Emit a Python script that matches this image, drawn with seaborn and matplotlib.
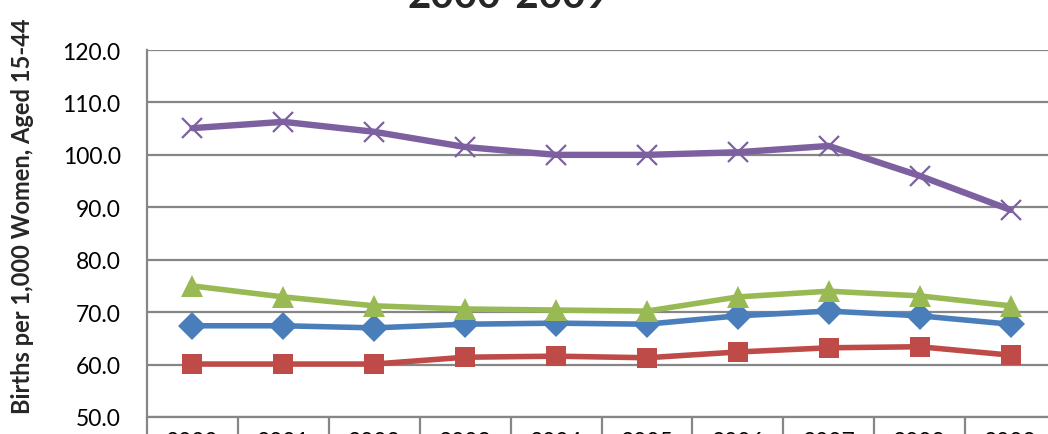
import matplotlib
matplotlib.use("Agg")
import matplotlib.pyplot as plt
import seaborn as sns
import pandas as pd
import numpy as np

years = ["2000", "2001", "2002", "2003", "2004", "2005", "2006", "2007", "2008", "2009"]
total = [67.4, 67.4, 67.0, 67.7, 67.9, 67.7, 69.3, 70.2, 69.3, 67.7]
white = [60.1, 60.1, 60.1, 61.4, 61.6, 61.3, 62.4, 63.2, 63.4, 61.8]
black = [75.0, 72.9, 71.2, 70.6, 70.4, 70.2, 72.9, 74.0, 73.1, 71.2]
hispanic = [105.1, 106.3, 104.4, 101.5, 100.0, 100.0, 100.5, 101.7, 96.0, 89.5]

yticks = [50.0, 60.0, 70.0, 80.0, 90.0, 100.0, 110.0, 120.0]
title = "2000-2009"
ylabel = "Births per 1,000 Women, Aged 15-44"

series = {"Total": total, "White": white, "Black": black, "Hispanic": hispanic}
df = pd.DataFrame(
    [(i, name, v) for name, vals in series.items() for i, v in enumerate(vals)],
    columns=["idx", "group", "rate"],
)

sns.set_theme(style="white")
plt.rcParams["font.family"] = ["Lato", "DejaVu Sans"]

W, H = 1048, 435
fig = plt.figure(figsize=(W / 100, H / 100), dpi=100)
left_px, right_px, top_px, bottom_px = 147, 1056, 51, 418
ax = fig.add_axes([left_px / W, (H - bottom_px) / H,
                   (right_px - left_px) / W, (bottom_px - top_px) / H])

styles = {
    "Total": dict(color="#4A7EBB", marker="D", markersize=14, lw=4.0),
    "White": dict(color="#BE4B48", marker="s", markersize=14.5, lw=4.0),
    "Black": dict(color="#98B954", marker="^", markersize=15.5, lw=4.0),
    "Hispanic": dict(color="#7D60A0", marker="x", markersize=15, lw=4.6,
                     markeredgewidth=1.6),
}
for name, st in styles.items():
    sub = df[df["group"] == name]
    sns.lineplot(data=sub, x="idx", y="rate", ax=ax, color=st["color"],
                 linewidth=st["lw"], marker=st["marker"],
                 markersize=st["markersize"],
                 markeredgewidth=st.get("markeredgewidth", 0),
                 markeredgecolor=st["color"], legend=False, zorder=3)

ax.set_xlim(-0.5, len(years) - 0.5)
ax.set_ylim(yticks[0], yticks[-1])
ax.set_yticks(yticks)
ax.set_yticklabels([f"{v:.1f}" for v in yticks], fontsize=16.5, color="black")
ax.tick_params(axis="y", length=0, pad=19)

ax.set_xticks(range(len(years)))
ax.set_xticklabels(years, fontsize=16.5, color="black")
ax.set_xticks(np.arange(-0.5, len(years), 1.0), minor=True)
ax.tick_params(axis="x", which="major", bottom=False, length=0, pad=10)
ax.tick_params(axis="x", which="minor", bottom=True, length=20, width=1.6,
               color="#868686", direction="out")
ax.set_xlabel("")
ax.set_ylabel("")

ax.grid(axis="y", color="#868686", linewidth=1.6)
ax.set_axisbelow(True)
for side in ["top", "right"]:
    ax.spines[side].set_visible(False)
for side in ["left", "bottom"]:
    ax.spines[side].set_color("#868686")
    ax.spines[side].set_linewidth(1.6)

fig.text(23 / W, 1 - 216 / H, ylabel, rotation=90, fontsize=17,
         fontweight="bold", ha="center", va="center")
fig.text(508 / W, 1 - 8 / H, title, fontsize=29, fontweight="bold",
         ha="center", va="baseline")

fig.savefig("out.png", dpi=100)
